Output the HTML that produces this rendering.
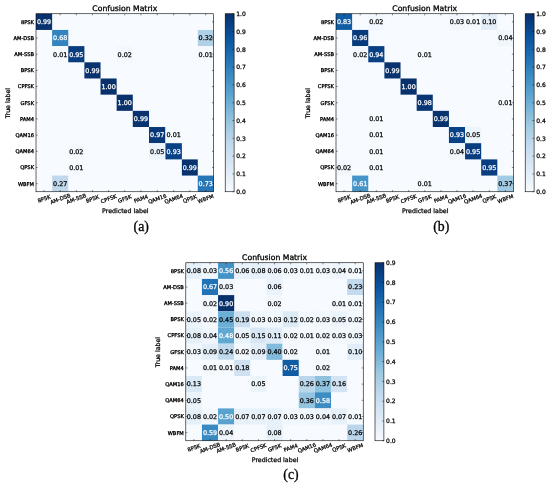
<!DOCTYPE html>
<html lang="en">
<head>
<meta charset="utf-8">
<title>Confusion Matrices</title>
<style>
html,body{margin:0;padding:0;background:#fff;}
body{width:550px;height:485px;overflow:hidden;}
svg{display:block;}
</style>
</head>
<body>
<svg width="550" height="485" viewBox="0 0 550 485" font-family="'DejaVu Sans','Liberation Sans',sans-serif" fill="#000">
<defs><linearGradient id="blues" x1="0" y1="0" x2="0" y2="1"><stop offset="0.0" stop-color="#08306b"/><stop offset="0.125" stop-color="#08519c"/><stop offset="0.25" stop-color="#2171b5"/><stop offset="0.375" stop-color="#4292c6"/><stop offset="0.5" stop-color="#6baed6"/><stop offset="0.625" stop-color="#9ecae1"/><stop offset="0.75" stop-color="#c6dbef"/><stop offset="0.875" stop-color="#deebf7"/><stop offset="1.0" stop-color="#f7fbff"/></linearGradient></defs>
<g>
<rect x="36" y="13.75" width="177.6" height="178" fill="#f7fbff"/>
<rect x="36" y="13.75" width="16.13" height="16.18" fill="#08336f"/>
<rect x="52.13" y="29.93" width="16.13" height="16.18" fill="#3383bf"/>
<rect x="197.77" y="29.93" width="15.83" height="16.18" fill="#b0d1e7"/>
<rect x="52.13" y="46.11" width="16.13" height="16.18" fill="#f5fafe"/>
<rect x="68.26" y="46.11" width="16.13" height="16.18" fill="#083d7f"/>
<rect x="116.66" y="46.11" width="16.13" height="16.18" fill="#f3f8fe"/>
<rect x="197.77" y="46.11" width="15.83" height="16.18" fill="#f5fafe"/>
<rect x="84.4" y="62.3" width="16.13" height="16.18" fill="#08336f"/>
<rect x="100.53" y="78.48" width="16.13" height="16.18" fill="#08306b"/>
<rect x="116.66" y="94.66" width="16.13" height="16.18" fill="#08306b"/>
<rect x="132.79" y="110.84" width="16.23" height="16.18" fill="#08336f"/>
<rect x="149.02" y="127.02" width="16.43" height="16.18" fill="#083877"/>
<rect x="165.45" y="127.02" width="16.43" height="16.18" fill="#f5fafe"/>
<rect x="68.26" y="143.2" width="16.13" height="16.18" fill="#f3f8fe"/>
<rect x="149.02" y="143.2" width="16.43" height="16.18" fill="#edf5fc"/>
<rect x="165.45" y="143.2" width="16.43" height="16.18" fill="#084286"/>
<rect x="68.26" y="159.39" width="16.13" height="16.18" fill="#f5fafe"/>
<rect x="181.89" y="159.39" width="15.88" height="16.18" fill="#08336f"/>
<rect x="52.13" y="175.57" width="16.13" height="16.18" fill="#c0d8ed"/>
<rect x="197.77" y="175.57" width="15.83" height="16.18" fill="#2676b8"/>
<path d="M44.07 13.75v1.6M44.07 191.75v-1.6M36 21.84h1.6M213.6 21.84h-1.6M60.2 13.75v1.6M60.2 191.75v-1.6M36 38.02h1.6M213.6 38.02h-1.6M76.33 13.75v1.6M76.33 191.75v-1.6M36 54.2h1.6M213.6 54.2h-1.6M92.46 13.75v1.6M92.46 191.75v-1.6M36 70.39h1.6M213.6 70.39h-1.6M108.59 13.75v1.6M108.59 191.75v-1.6M36 86.57h1.6M213.6 86.57h-1.6M124.72 13.75v1.6M124.72 191.75v-1.6M36 102.75h1.6M213.6 102.75h-1.6M140.91 13.75v1.6M140.91 191.75v-1.6M36 118.93h1.6M213.6 118.93h-1.6M157.24 13.75v1.6M157.24 191.75v-1.6M36 135.11h1.6M213.6 135.11h-1.6M173.67 13.75v1.6M173.67 191.75v-1.6M36 151.3h1.6M213.6 151.3h-1.6M189.83 13.75v1.6M189.83 191.75v-1.6M36 167.48h1.6M213.6 167.48h-1.6M205.68 13.75v1.6M205.68 191.75v-1.6M36 183.66h1.6M213.6 183.66h-1.6" stroke="#000" stroke-width="0.48" fill="none"/>
<rect x="36" y="13.75" width="177.6" height="178" fill="none" stroke="#000" stroke-width="0.6"/>
<g font-size="6.4" text-anchor="middle" stroke-width="0.25">
<text x="44.07" y="24.14" fill="#fff" stroke="#fff">0.99</text>
<text x="60.2" y="40.33" fill="#fff" stroke="#fff">0.68</text>
<text x="205.68" y="40.33" fill="#000" stroke="#000">0.32</text>
<text x="60.2" y="56.51" fill="#000" stroke="#000">0.01</text>
<text x="76.33" y="56.51" fill="#fff" stroke="#fff">0.95</text>
<text x="124.72" y="56.51" fill="#000" stroke="#000">0.02</text>
<text x="205.68" y="56.51" fill="#000" stroke="#000">0.01</text>
<text x="92.46" y="72.69" fill="#fff" stroke="#fff">0.99</text>
<text x="108.59" y="88.87" fill="#fff" stroke="#fff">1.00</text>
<text x="124.72" y="105.05" fill="#fff" stroke="#fff">1.00</text>
<text x="140.91" y="121.24" fill="#fff" stroke="#fff">0.99</text>
<text x="157.24" y="137.42" fill="#fff" stroke="#fff">0.97</text>
<text x="173.67" y="137.42" fill="#000" stroke="#000">0.01</text>
<text x="76.33" y="153.6" fill="#000" stroke="#000">0.02</text>
<text x="157.24" y="153.6" fill="#000" stroke="#000">0.05</text>
<text x="173.67" y="153.6" fill="#fff" stroke="#fff">0.93</text>
<text x="76.33" y="169.78" fill="#000" stroke="#000">0.01</text>
<text x="189.83" y="169.78" fill="#fff" stroke="#fff">0.99</text>
<text x="60.2" y="185.96" fill="#000" stroke="#000">0.27</text>
<text x="205.68" y="185.96" fill="#fff" stroke="#fff">0.73</text>
</g>
<g font-size="5.15" text-anchor="end" stroke="#000" stroke-width="0.3">
<text x="34" y="23.69">8PSK</text>
<text x="34" y="39.88">AM-DSB</text>
<text x="34" y="56.06">AM-SSB</text>
<text x="34" y="72.24">BPSK</text>
<text x="34" y="88.42">CPFSK</text>
<text x="34" y="104.6">GFSK</text>
<text x="34" y="120.79">PAM4</text>
<text x="34" y="136.97">QAM16</text>
<text x="34" y="153.15">QAM64</text>
<text x="34" y="169.33">QPSK</text>
<text x="34" y="185.51">WBFM</text>
</g>
<g font-size="5.3" text-anchor="middle" stroke="#000" stroke-width="0.25">
<text transform="translate(44.07 198.75) rotate(-20)" y="1.91">8PSK</text>
<text transform="translate(60.2 198.75) rotate(-20)" y="1.91">AM-DSB</text>
<text transform="translate(76.33 198.75) rotate(-20)" y="1.91">AM-SSB</text>
<text transform="translate(92.46 198.75) rotate(-20)" y="1.91">BPSK</text>
<text transform="translate(108.59 198.75) rotate(-20)" y="1.91">CPFSK</text>
<text transform="translate(124.72 198.75) rotate(-20)" y="1.91">GFSK</text>
<text transform="translate(140.91 198.75) rotate(-20)" y="1.91">PAM4</text>
<text transform="translate(157.24 198.75) rotate(-20)" y="1.91">QAM16</text>
<text transform="translate(173.67 198.75) rotate(-20)" y="1.91">QAM64</text>
<text transform="translate(189.83 198.75) rotate(-20)" y="1.91">QPSK</text>
<text transform="translate(205.68 198.75) rotate(-20)" y="1.91">WBFM</text>
</g>
<text x="124.8" y="11.4" font-size="7.7" text-anchor="middle" stroke="#000" stroke-width="0.3">Confusion Matrix</text>
<text x="125.3" y="213" font-size="6.25" text-anchor="middle" stroke="#000" stroke-width="0.25">Predicted label</text>
<text transform="translate(10 103.15) rotate(-90)" font-size="6.25" text-anchor="middle" stroke="#000" stroke-width="0.25">True label</text>
<rect x="225.2" y="13.75" width="8.9" height="178" fill="url(#blues)" stroke="#000" stroke-width="0.6"/>
<g font-size="6" stroke="#000" stroke-width="0.25">
<text x="236.3" y="193.91">0.0</text>
<text x="236.3" y="176.11">0.1</text>
<text x="236.3" y="158.31">0.2</text>
<text x="236.3" y="140.51">0.3</text>
<text x="236.3" y="122.71">0.4</text>
<text x="236.3" y="104.91">0.5</text>
<text x="236.3" y="87.11">0.6</text>
<text x="236.3" y="69.31">0.7</text>
<text x="236.3" y="51.51">0.8</text>
<text x="236.3" y="33.71">0.9</text>
<text x="236.3" y="15.91">1.0</text>
</g>
<path d="M234.1 191.75h-1.6M234.1 173.95h-1.6M234.1 156.15h-1.6M234.1 138.35h-1.6M234.1 120.55h-1.6M234.1 102.75h-1.6M234.1 84.95h-1.6M234.1 67.15h-1.6M234.1 49.35h-1.6M234.1 31.55h-1.6M234.1 13.75h-1.6" stroke="#000" stroke-width="0.48" fill="none"/>
<text x="141.2" y="231" font-family="'Liberation Serif','DejaVu Serif',serif" font-size="13.8" text-anchor="middle" stroke="#000" stroke-width="0.3">(a)</text>
</g>
<g>
<rect x="336" y="13.75" width="177.45" height="178" fill="#f7fbff"/>
<rect x="336" y="13.75" width="16.13" height="16.18" fill="#115da5"/>
<rect x="368.26" y="13.75" width="16.13" height="16.18" fill="#f3f8fe"/>
<rect x="448.92" y="13.75" width="16.13" height="16.18" fill="#f1f7fd"/>
<rect x="465.05" y="13.75" width="16.13" height="16.18" fill="#f5fafe"/>
<rect x="481.19" y="13.75" width="16.13" height="16.18" fill="#e3eef9"/>
<rect x="352.13" y="29.93" width="16.13" height="16.18" fill="#083b7b"/>
<rect x="497.32" y="29.93" width="16.13" height="16.18" fill="#eff6fc"/>
<rect x="352.13" y="46.11" width="16.13" height="16.18" fill="#f3f8fe"/>
<rect x="368.26" y="46.11" width="16.13" height="16.18" fill="#084083"/>
<rect x="416.66" y="46.11" width="16.13" height="16.18" fill="#f5fafe"/>
<rect x="384.4" y="62.3" width="16.13" height="16.18" fill="#08336f"/>
<rect x="400.53" y="78.48" width="16.13" height="16.18" fill="#08306b"/>
<rect x="416.66" y="94.66" width="16.13" height="16.18" fill="#083573"/>
<rect x="497.32" y="94.66" width="16.13" height="16.18" fill="#f5fafe"/>
<rect x="368.26" y="110.84" width="16.13" height="16.18" fill="#f5fafe"/>
<rect x="432.79" y="110.84" width="16.13" height="16.18" fill="#08336f"/>
<rect x="368.26" y="127.02" width="16.13" height="16.18" fill="#f5fafe"/>
<rect x="448.92" y="127.02" width="16.13" height="16.18" fill="#084286"/>
<rect x="465.05" y="127.02" width="16.13" height="16.18" fill="#edf5fc"/>
<rect x="368.26" y="143.2" width="16.13" height="16.18" fill="#f5fafe"/>
<rect x="448.92" y="143.2" width="16.13" height="16.18" fill="#eff6fc"/>
<rect x="465.05" y="143.2" width="16.13" height="16.18" fill="#083d7f"/>
<rect x="336" y="159.39" width="16.13" height="16.18" fill="#f3f8fe"/>
<rect x="368.26" y="159.39" width="16.13" height="16.18" fill="#f5fafe"/>
<rect x="481.19" y="159.39" width="16.13" height="16.18" fill="#083d7f"/>
<rect x="352.13" y="175.57" width="16.13" height="16.18" fill="#4795c8"/>
<rect x="416.66" y="175.57" width="16.13" height="16.18" fill="#f5fafe"/>
<rect x="497.32" y="175.57" width="16.13" height="16.18" fill="#a0cbe2"/>
<path d="M344.07 13.75v1.6M344.07 191.75v-1.6M336 21.84h1.6M513.45 21.84h-1.6M360.2 13.75v1.6M360.2 191.75v-1.6M336 38.02h1.6M513.45 38.02h-1.6M376.33 13.75v1.6M376.33 191.75v-1.6M336 54.2h1.6M513.45 54.2h-1.6M392.46 13.75v1.6M392.46 191.75v-1.6M336 70.39h1.6M513.45 70.39h-1.6M408.59 13.75v1.6M408.59 191.75v-1.6M336 86.57h1.6M513.45 86.57h-1.6M424.73 13.75v1.6M424.73 191.75v-1.6M336 102.75h1.6M513.45 102.75h-1.6M440.86 13.75v1.6M440.86 191.75v-1.6M336 118.93h1.6M513.45 118.93h-1.6M456.99 13.75v1.6M456.99 191.75v-1.6M336 135.11h1.6M513.45 135.11h-1.6M473.12 13.75v1.6M473.12 191.75v-1.6M336 151.3h1.6M513.45 151.3h-1.6M489.25 13.75v1.6M489.25 191.75v-1.6M336 167.48h1.6M513.45 167.48h-1.6M505.38 13.75v1.6M505.38 191.75v-1.6M336 183.66h1.6M513.45 183.66h-1.6" stroke="#000" stroke-width="0.48" fill="none"/>
<rect x="336" y="13.75" width="177.45" height="178" fill="none" stroke="#000" stroke-width="0.6"/>
<g font-size="6.4" text-anchor="middle" stroke-width="0.25">
<text x="344.07" y="24.14" fill="#fff" stroke="#fff">0.83</text>
<text x="376.33" y="24.14" fill="#000" stroke="#000">0.02</text>
<text x="456.99" y="24.14" fill="#000" stroke="#000">0.03</text>
<text x="473.12" y="24.14" fill="#000" stroke="#000">0.01</text>
<text x="489.25" y="24.14" fill="#000" stroke="#000">0.10</text>
<text x="360.2" y="40.33" fill="#fff" stroke="#fff">0.96</text>
<text x="505.38" y="40.33" fill="#000" stroke="#000">0.04</text>
<text x="360.2" y="56.51" fill="#000" stroke="#000">0.02</text>
<text x="376.33" y="56.51" fill="#fff" stroke="#fff">0.94</text>
<text x="424.73" y="56.51" fill="#000" stroke="#000">0.01</text>
<text x="392.46" y="72.69" fill="#fff" stroke="#fff">0.99</text>
<text x="408.59" y="88.87" fill="#fff" stroke="#fff">1.00</text>
<text x="424.73" y="105.05" fill="#fff" stroke="#fff">0.98</text>
<text x="505.38" y="105.05" fill="#000" stroke="#000">0.01</text>
<text x="376.33" y="121.24" fill="#000" stroke="#000">0.01</text>
<text x="440.86" y="121.24" fill="#fff" stroke="#fff">0.99</text>
<text x="376.33" y="137.42" fill="#000" stroke="#000">0.01</text>
<text x="456.99" y="137.42" fill="#fff" stroke="#fff">0.93</text>
<text x="473.12" y="137.42" fill="#000" stroke="#000">0.05</text>
<text x="376.33" y="153.6" fill="#000" stroke="#000">0.01</text>
<text x="456.99" y="153.6" fill="#000" stroke="#000">0.04</text>
<text x="473.12" y="153.6" fill="#fff" stroke="#fff">0.95</text>
<text x="344.07" y="169.78" fill="#000" stroke="#000">0.02</text>
<text x="376.33" y="169.78" fill="#000" stroke="#000">0.01</text>
<text x="489.25" y="169.78" fill="#fff" stroke="#fff">0.95</text>
<text x="360.2" y="185.96" fill="#fff" stroke="#fff">0.61</text>
<text x="424.73" y="185.96" fill="#000" stroke="#000">0.01</text>
<text x="505.38" y="185.96" fill="#000" stroke="#000">0.37</text>
</g>
<g font-size="5.15" text-anchor="end" stroke="#000" stroke-width="0.3">
<text x="334" y="23.69">8PSK</text>
<text x="334" y="39.88">AM-DSB</text>
<text x="334" y="56.06">AM-SSB</text>
<text x="334" y="72.24">BPSK</text>
<text x="334" y="88.42">CPFSK</text>
<text x="334" y="104.6">GFSK</text>
<text x="334" y="120.79">PAM4</text>
<text x="334" y="136.97">QAM16</text>
<text x="334" y="153.15">QAM64</text>
<text x="334" y="169.33">QPSK</text>
<text x="334" y="185.51">WBFM</text>
</g>
<g font-size="5.3" text-anchor="middle" stroke="#000" stroke-width="0.25">
<text transform="translate(344.07 198.75) rotate(-20)" y="1.91">8PSK</text>
<text transform="translate(360.2 198.75) rotate(-20)" y="1.91">AM-DSB</text>
<text transform="translate(376.33 198.75) rotate(-20)" y="1.91">AM-SSB</text>
<text transform="translate(392.46 198.75) rotate(-20)" y="1.91">BPSK</text>
<text transform="translate(408.59 198.75) rotate(-20)" y="1.91">CPFSK</text>
<text transform="translate(424.73 198.75) rotate(-20)" y="1.91">GFSK</text>
<text transform="translate(440.86 198.75) rotate(-20)" y="1.91">PAM4</text>
<text transform="translate(456.99 198.75) rotate(-20)" y="1.91">QAM16</text>
<text transform="translate(473.12 198.75) rotate(-20)" y="1.91">QAM64</text>
<text transform="translate(489.25 198.75) rotate(-20)" y="1.91">QPSK</text>
<text transform="translate(505.38 198.75) rotate(-20)" y="1.91">WBFM</text>
</g>
<text x="424.73" y="11.4" font-size="7.7" text-anchor="middle" stroke="#000" stroke-width="0.3">Confusion Matrix</text>
<text x="425.23" y="213" font-size="6.25" text-anchor="middle" stroke="#000" stroke-width="0.25">Predicted label</text>
<text transform="translate(310 103.15) rotate(-90)" font-size="6.25" text-anchor="middle" stroke="#000" stroke-width="0.25">True label</text>
<rect x="525.2" y="13.75" width="8.9" height="178" fill="url(#blues)" stroke="#000" stroke-width="0.6"/>
<g font-size="6" stroke="#000" stroke-width="0.25">
<text x="536.3" y="193.91">0.0</text>
<text x="536.3" y="176.11">0.1</text>
<text x="536.3" y="158.31">0.2</text>
<text x="536.3" y="140.51">0.3</text>
<text x="536.3" y="122.71">0.4</text>
<text x="536.3" y="104.91">0.5</text>
<text x="536.3" y="87.11">0.6</text>
<text x="536.3" y="69.31">0.7</text>
<text x="536.3" y="51.51">0.8</text>
<text x="536.3" y="33.71">0.9</text>
<text x="536.3" y="15.91">1.0</text>
</g>
<path d="M534.1 191.75h-1.6M534.1 173.95h-1.6M534.1 156.15h-1.6M534.1 138.35h-1.6M534.1 120.55h-1.6M534.1 102.75h-1.6M534.1 84.95h-1.6M534.1 67.15h-1.6M534.1 49.35h-1.6M534.1 31.55h-1.6M534.1 13.75h-1.6" stroke="#000" stroke-width="0.48" fill="none"/>
<text x="441.2" y="231" font-family="'Liberation Serif','DejaVu Serif',serif" font-size="13.8" text-anchor="middle" stroke="#000" stroke-width="0.3">(b)</text>
</g>
<g>
<rect x="185.8" y="262.75" width="177.45" height="178" fill="#f7fbff"/>
<rect x="185.8" y="262.75" width="16.13" height="16.18" fill="#e5f0f9"/>
<rect x="201.93" y="262.75" width="16.13" height="16.18" fill="#f0f7fd"/>
<rect x="218.06" y="262.75" width="16.13" height="16.18" fill="#4393c6"/>
<rect x="234.2" y="262.75" width="16.13" height="16.18" fill="#eaf2fb"/>
<rect x="250.33" y="262.75" width="16.13" height="16.18" fill="#e5f0f9"/>
<rect x="266.46" y="262.75" width="16.13" height="16.18" fill="#eaf2fb"/>
<rect x="282.59" y="262.75" width="16.13" height="16.18" fill="#f0f7fd"/>
<rect x="298.72" y="262.75" width="16.13" height="16.18" fill="#f5fafe"/>
<rect x="314.85" y="262.75" width="16.13" height="16.18" fill="#f0f7fd"/>
<rect x="330.99" y="262.75" width="16.13" height="16.18" fill="#eef5fc"/>
<rect x="347.12" y="262.75" width="16.13" height="16.18" fill="#f5fafe"/>
<rect x="201.93" y="278.93" width="16.13" height="16.18" fill="#2272b6"/>
<rect x="218.06" y="278.93" width="16.13" height="16.18" fill="#f0f7fd"/>
<rect x="266.46" y="278.93" width="16.13" height="16.18" fill="#eaf2fb"/>
<rect x="347.12" y="278.93" width="16.13" height="16.18" fill="#c4daee"/>
<rect x="201.93" y="295.11" width="16.13" height="16.18" fill="#f3f8fe"/>
<rect x="218.06" y="295.11" width="16.13" height="16.18" fill="#08306b"/>
<rect x="266.46" y="295.11" width="16.13" height="16.18" fill="#f3f8fe"/>
<rect x="330.99" y="295.11" width="16.13" height="16.18" fill="#f5fafe"/>
<rect x="347.12" y="295.11" width="16.13" height="16.18" fill="#f5fafe"/>
<rect x="185.8" y="311.3" width="16.13" height="16.18" fill="#ecf4fb"/>
<rect x="201.93" y="311.3" width="16.13" height="16.18" fill="#f3f8fe"/>
<rect x="218.06" y="311.3" width="16.13" height="16.18" fill="#6baed6"/>
<rect x="234.2" y="311.3" width="16.13" height="16.18" fill="#cde0f1"/>
<rect x="250.33" y="311.3" width="16.13" height="16.18" fill="#f0f7fd"/>
<rect x="266.46" y="311.3" width="16.13" height="16.18" fill="#f0f7fd"/>
<rect x="282.59" y="311.3" width="16.13" height="16.18" fill="#dceaf6"/>
<rect x="298.72" y="311.3" width="16.13" height="16.18" fill="#f3f8fe"/>
<rect x="314.85" y="311.3" width="16.13" height="16.18" fill="#f0f7fd"/>
<rect x="330.99" y="311.3" width="16.13" height="16.18" fill="#ecf4fb"/>
<rect x="347.12" y="311.3" width="16.13" height="16.18" fill="#f3f8fe"/>
<rect x="185.8" y="327.48" width="16.13" height="16.18" fill="#e5f0f9"/>
<rect x="201.93" y="327.48" width="16.13" height="16.18" fill="#eef5fc"/>
<rect x="218.06" y="327.48" width="16.13" height="16.18" fill="#60a7d2"/>
<rect x="234.2" y="327.48" width="16.13" height="16.18" fill="#ecf4fb"/>
<rect x="250.33" y="327.48" width="16.13" height="16.18" fill="#d6e6f4"/>
<rect x="266.46" y="327.48" width="16.13" height="16.18" fill="#dfebf7"/>
<rect x="282.59" y="327.48" width="16.13" height="16.18" fill="#f3f8fe"/>
<rect x="298.72" y="327.48" width="16.13" height="16.18" fill="#f5fafe"/>
<rect x="314.85" y="327.48" width="16.13" height="16.18" fill="#f3f8fe"/>
<rect x="330.99" y="327.48" width="16.13" height="16.18" fill="#f0f7fd"/>
<rect x="347.12" y="327.48" width="16.13" height="16.18" fill="#f0f7fd"/>
<rect x="185.8" y="343.66" width="16.13" height="16.18" fill="#f0f7fd"/>
<rect x="201.93" y="343.66" width="16.13" height="16.18" fill="#e3eef9"/>
<rect x="218.06" y="343.66" width="16.13" height="16.18" fill="#c1d9ed"/>
<rect x="234.2" y="343.66" width="16.13" height="16.18" fill="#f3f8fe"/>
<rect x="250.33" y="343.66" width="16.13" height="16.18" fill="#e3eef9"/>
<rect x="266.46" y="343.66" width="16.13" height="16.18" fill="#82badb"/>
<rect x="282.59" y="343.66" width="16.13" height="16.18" fill="#f3f8fe"/>
<rect x="314.85" y="343.66" width="16.13" height="16.18" fill="#f5fafe"/>
<rect x="347.12" y="343.66" width="16.13" height="16.18" fill="#e1edf8"/>
<rect x="201.93" y="359.84" width="16.13" height="16.18" fill="#f5fafe"/>
<rect x="218.06" y="359.84" width="16.13" height="16.18" fill="#f5fafe"/>
<rect x="234.2" y="359.84" width="16.13" height="16.18" fill="#d0e1f2"/>
<rect x="282.59" y="359.84" width="16.13" height="16.18" fill="#105ca4"/>
<rect x="314.85" y="359.84" width="16.13" height="16.18" fill="#f3f8fe"/>
<rect x="185.8" y="376.02" width="16.13" height="16.18" fill="#dae9f6"/>
<rect x="250.33" y="376.02" width="16.13" height="16.18" fill="#ecf4fb"/>
<rect x="298.72" y="376.02" width="16.13" height="16.18" fill="#bad6eb"/>
<rect x="314.85" y="376.02" width="16.13" height="16.18" fill="#8fc2de"/>
<rect x="330.99" y="376.02" width="16.13" height="16.18" fill="#d4e4f4"/>
<rect x="185.8" y="392.2" width="16.13" height="16.18" fill="#ecf4fb"/>
<rect x="298.72" y="392.2" width="16.13" height="16.18" fill="#94c4df"/>
<rect x="314.85" y="392.2" width="16.13" height="16.18" fill="#3d8dc3"/>
<rect x="185.8" y="408.39" width="16.13" height="16.18" fill="#e5f0f9"/>
<rect x="201.93" y="408.39" width="16.13" height="16.18" fill="#f3f8fe"/>
<rect x="218.06" y="408.39" width="16.13" height="16.18" fill="#59a2cf"/>
<rect x="234.2" y="408.39" width="16.13" height="16.18" fill="#e7f1fa"/>
<rect x="250.33" y="408.39" width="16.13" height="16.18" fill="#e7f1fa"/>
<rect x="266.46" y="408.39" width="16.13" height="16.18" fill="#e7f1fa"/>
<rect x="282.59" y="408.39" width="16.13" height="16.18" fill="#f0f7fd"/>
<rect x="298.72" y="408.39" width="16.13" height="16.18" fill="#f0f7fd"/>
<rect x="314.85" y="408.39" width="16.13" height="16.18" fill="#eef5fc"/>
<rect x="330.99" y="408.39" width="16.13" height="16.18" fill="#e7f1fa"/>
<rect x="347.12" y="408.39" width="16.13" height="16.18" fill="#f5fafe"/>
<rect x="201.93" y="424.57" width="16.13" height="16.18" fill="#3a8ac2"/>
<rect x="218.06" y="424.57" width="16.13" height="16.18" fill="#eef5fc"/>
<rect x="266.46" y="424.57" width="16.13" height="16.18" fill="#e5f0f9"/>
<rect x="347.12" y="424.57" width="16.13" height="16.18" fill="#bad6eb"/>
<path d="M193.87 262.75v1.6M193.87 440.75v-1.6M185.8 270.84h1.6M363.25 270.84h-1.6M210 262.75v1.6M210 440.75v-1.6M185.8 287.02h1.6M363.25 287.02h-1.6M226.13 262.75v1.6M226.13 440.75v-1.6M185.8 303.2h1.6M363.25 303.2h-1.6M242.26 262.75v1.6M242.26 440.75v-1.6M185.8 319.39h1.6M363.25 319.39h-1.6M258.39 262.75v1.6M258.39 440.75v-1.6M185.8 335.57h1.6M363.25 335.57h-1.6M274.52 262.75v1.6M274.52 440.75v-1.6M185.8 351.75h1.6M363.25 351.75h-1.6M290.66 262.75v1.6M290.66 440.75v-1.6M185.8 367.93h1.6M363.25 367.93h-1.6M306.79 262.75v1.6M306.79 440.75v-1.6M185.8 384.11h1.6M363.25 384.11h-1.6M322.92 262.75v1.6M322.92 440.75v-1.6M185.8 400.3h1.6M363.25 400.3h-1.6M339.05 262.75v1.6M339.05 440.75v-1.6M185.8 416.48h1.6M363.25 416.48h-1.6M355.18 262.75v1.6M355.18 440.75v-1.6M185.8 432.66h1.6M363.25 432.66h-1.6" stroke="#000" stroke-width="0.48" fill="none"/>
<rect x="185.8" y="262.75" width="177.45" height="178" fill="none" stroke="#000" stroke-width="0.6"/>
<g font-size="6.4" text-anchor="middle" stroke-width="0.25">
<text x="193.87" y="273.14" fill="#000" stroke="#000">0.08</text>
<text x="210" y="273.14" fill="#000" stroke="#000">0.03</text>
<text x="226.13" y="273.14" fill="#fff" stroke="#fff">0.56</text>
<text x="242.26" y="273.14" fill="#000" stroke="#000">0.06</text>
<text x="258.39" y="273.14" fill="#000" stroke="#000">0.08</text>
<text x="274.52" y="273.14" fill="#000" stroke="#000">0.06</text>
<text x="290.66" y="273.14" fill="#000" stroke="#000">0.03</text>
<text x="306.79" y="273.14" fill="#000" stroke="#000">0.01</text>
<text x="322.92" y="273.14" fill="#000" stroke="#000">0.03</text>
<text x="339.05" y="273.14" fill="#000" stroke="#000">0.04</text>
<text x="355.18" y="273.14" fill="#000" stroke="#000">0.01</text>
<text x="210" y="289.33" fill="#fff" stroke="#fff">0.67</text>
<text x="226.13" y="289.33" fill="#000" stroke="#000">0.03</text>
<text x="274.52" y="289.33" fill="#000" stroke="#000">0.06</text>
<text x="355.18" y="289.33" fill="#000" stroke="#000">0.23</text>
<text x="210" y="305.51" fill="#000" stroke="#000">0.02</text>
<text x="226.13" y="305.51" fill="#fff" stroke="#fff">0.90</text>
<text x="274.52" y="305.51" fill="#000" stroke="#000">0.02</text>
<text x="339.05" y="305.51" fill="#000" stroke="#000">0.01</text>
<text x="355.18" y="305.51" fill="#000" stroke="#000">0.01</text>
<text x="193.87" y="321.69" fill="#000" stroke="#000">0.05</text>
<text x="210" y="321.69" fill="#000" stroke="#000">0.02</text>
<text x="226.13" y="321.69" fill="#000" stroke="#000">0.45</text>
<text x="242.26" y="321.69" fill="#000" stroke="#000">0.19</text>
<text x="258.39" y="321.69" fill="#000" stroke="#000">0.03</text>
<text x="274.52" y="321.69" fill="#000" stroke="#000">0.03</text>
<text x="290.66" y="321.69" fill="#000" stroke="#000">0.12</text>
<text x="306.79" y="321.69" fill="#000" stroke="#000">0.02</text>
<text x="322.92" y="321.69" fill="#000" stroke="#000">0.03</text>
<text x="339.05" y="321.69" fill="#000" stroke="#000">0.05</text>
<text x="355.18" y="321.69" fill="#000" stroke="#000">0.02</text>
<text x="193.87" y="337.87" fill="#000" stroke="#000">0.08</text>
<text x="210" y="337.87" fill="#000" stroke="#000">0.04</text>
<text x="226.13" y="337.87" fill="#fff" stroke="#fff">0.48</text>
<text x="242.26" y="337.87" fill="#000" stroke="#000">0.05</text>
<text x="258.39" y="337.87" fill="#000" stroke="#000">0.15</text>
<text x="274.52" y="337.87" fill="#000" stroke="#000">0.11</text>
<text x="290.66" y="337.87" fill="#000" stroke="#000">0.02</text>
<text x="306.79" y="337.87" fill="#000" stroke="#000">0.01</text>
<text x="322.92" y="337.87" fill="#000" stroke="#000">0.02</text>
<text x="339.05" y="337.87" fill="#000" stroke="#000">0.03</text>
<text x="355.18" y="337.87" fill="#000" stroke="#000">0.03</text>
<text x="193.87" y="354.05" fill="#000" stroke="#000">0.03</text>
<text x="210" y="354.05" fill="#000" stroke="#000">0.09</text>
<text x="226.13" y="354.05" fill="#000" stroke="#000">0.24</text>
<text x="242.26" y="354.05" fill="#000" stroke="#000">0.02</text>
<text x="258.39" y="354.05" fill="#000" stroke="#000">0.09</text>
<text x="274.52" y="354.05" fill="#000" stroke="#000">0.40</text>
<text x="290.66" y="354.05" fill="#000" stroke="#000">0.02</text>
<text x="322.92" y="354.05" fill="#000" stroke="#000">0.01</text>
<text x="355.18" y="354.05" fill="#000" stroke="#000">0.10</text>
<text x="210" y="370.24" fill="#000" stroke="#000">0.01</text>
<text x="226.13" y="370.24" fill="#000" stroke="#000">0.01</text>
<text x="242.26" y="370.24" fill="#000" stroke="#000">0.18</text>
<text x="290.66" y="370.24" fill="#fff" stroke="#fff">0.75</text>
<text x="322.92" y="370.24" fill="#000" stroke="#000">0.02</text>
<text x="193.87" y="386.42" fill="#000" stroke="#000">0.13</text>
<text x="258.39" y="386.42" fill="#000" stroke="#000">0.05</text>
<text x="306.79" y="386.42" fill="#000" stroke="#000">0.26</text>
<text x="322.92" y="386.42" fill="#000" stroke="#000">0.37</text>
<text x="339.05" y="386.42" fill="#000" stroke="#000">0.16</text>
<text x="193.87" y="402.6" fill="#000" stroke="#000">0.05</text>
<text x="306.79" y="402.6" fill="#000" stroke="#000">0.36</text>
<text x="322.92" y="402.6" fill="#fff" stroke="#fff">0.58</text>
<text x="193.87" y="418.78" fill="#000" stroke="#000">0.08</text>
<text x="210" y="418.78" fill="#000" stroke="#000">0.02</text>
<text x="226.13" y="418.78" fill="#fff" stroke="#fff">0.50</text>
<text x="242.26" y="418.78" fill="#000" stroke="#000">0.07</text>
<text x="258.39" y="418.78" fill="#000" stroke="#000">0.07</text>
<text x="274.52" y="418.78" fill="#000" stroke="#000">0.07</text>
<text x="290.66" y="418.78" fill="#000" stroke="#000">0.03</text>
<text x="306.79" y="418.78" fill="#000" stroke="#000">0.03</text>
<text x="322.92" y="418.78" fill="#000" stroke="#000">0.04</text>
<text x="339.05" y="418.78" fill="#000" stroke="#000">0.07</text>
<text x="355.18" y="418.78" fill="#000" stroke="#000">0.01</text>
<text x="210" y="434.96" fill="#fff" stroke="#fff">0.59</text>
<text x="226.13" y="434.96" fill="#000" stroke="#000">0.04</text>
<text x="274.52" y="434.96" fill="#000" stroke="#000">0.08</text>
<text x="355.18" y="434.96" fill="#000" stroke="#000">0.26</text>
</g>
<g font-size="5.15" text-anchor="end" stroke="#000" stroke-width="0.3">
<text x="183.8" y="272.69">8PSK</text>
<text x="183.8" y="288.88">AM-DSB</text>
<text x="183.8" y="305.06">AM-SSB</text>
<text x="183.8" y="321.24">BPSK</text>
<text x="183.8" y="337.42">CPFSK</text>
<text x="183.8" y="353.6">GFSK</text>
<text x="183.8" y="369.79">PAM4</text>
<text x="183.8" y="385.97">QAM16</text>
<text x="183.8" y="402.15">QAM64</text>
<text x="183.8" y="418.33">QPSK</text>
<text x="183.8" y="434.51">WBFM</text>
</g>
<g font-size="5.3" text-anchor="middle" stroke="#000" stroke-width="0.25">
<text transform="translate(193.87 447.75) rotate(-20)" y="1.91">8PSK</text>
<text transform="translate(210 447.75) rotate(-20)" y="1.91">AM-DSB</text>
<text transform="translate(226.13 447.75) rotate(-20)" y="1.91">AM-SSB</text>
<text transform="translate(242.26 447.75) rotate(-20)" y="1.91">BPSK</text>
<text transform="translate(258.39 447.75) rotate(-20)" y="1.91">CPFSK</text>
<text transform="translate(274.52 447.75) rotate(-20)" y="1.91">GFSK</text>
<text transform="translate(290.66 447.75) rotate(-20)" y="1.91">PAM4</text>
<text transform="translate(306.79 447.75) rotate(-20)" y="1.91">QAM16</text>
<text transform="translate(322.92 447.75) rotate(-20)" y="1.91">QAM64</text>
<text transform="translate(339.05 447.75) rotate(-20)" y="1.91">QPSK</text>
<text transform="translate(355.18 447.75) rotate(-20)" y="1.91">WBFM</text>
</g>
<text x="274.52" y="260.4" font-size="7.7" text-anchor="middle" stroke="#000" stroke-width="0.3">Confusion Matrix</text>
<text x="275.02" y="462" font-size="6.25" text-anchor="middle" stroke="#000" stroke-width="0.25">Predicted label</text>
<text transform="translate(159.8 352.15) rotate(-90)" font-size="6.25" text-anchor="middle" stroke="#000" stroke-width="0.25">True label</text>
<rect x="375" y="262.75" width="8.9" height="178" fill="url(#blues)" stroke="#000" stroke-width="0.6"/>
<g font-size="6" stroke="#000" stroke-width="0.25">
<text x="386.1" y="442.91">0.0</text>
<text x="386.1" y="423.13">0.1</text>
<text x="386.1" y="403.35">0.2</text>
<text x="386.1" y="383.58">0.3</text>
<text x="386.1" y="363.8">0.4</text>
<text x="386.1" y="344.02">0.5</text>
<text x="386.1" y="324.24">0.6</text>
<text x="386.1" y="304.47">0.7</text>
<text x="386.1" y="284.69">0.8</text>
<text x="386.1" y="264.91">0.9</text>
</g>
<path d="M383.9 440.75h-1.6M383.9 420.97h-1.6M383.9 401.19h-1.6M383.9 381.42h-1.6M383.9 361.64h-1.6M383.9 341.86h-1.6M383.9 322.08h-1.6M383.9 302.31h-1.6M383.9 282.53h-1.6M383.9 262.75h-1.6" stroke="#000" stroke-width="0.48" fill="none"/>
<text x="291" y="479.3" font-family="'Liberation Serif','DejaVu Serif',serif" font-size="13.8" text-anchor="middle" stroke="#000" stroke-width="0.3">(c)</text>
</g>
</svg>
</body>
</html>
